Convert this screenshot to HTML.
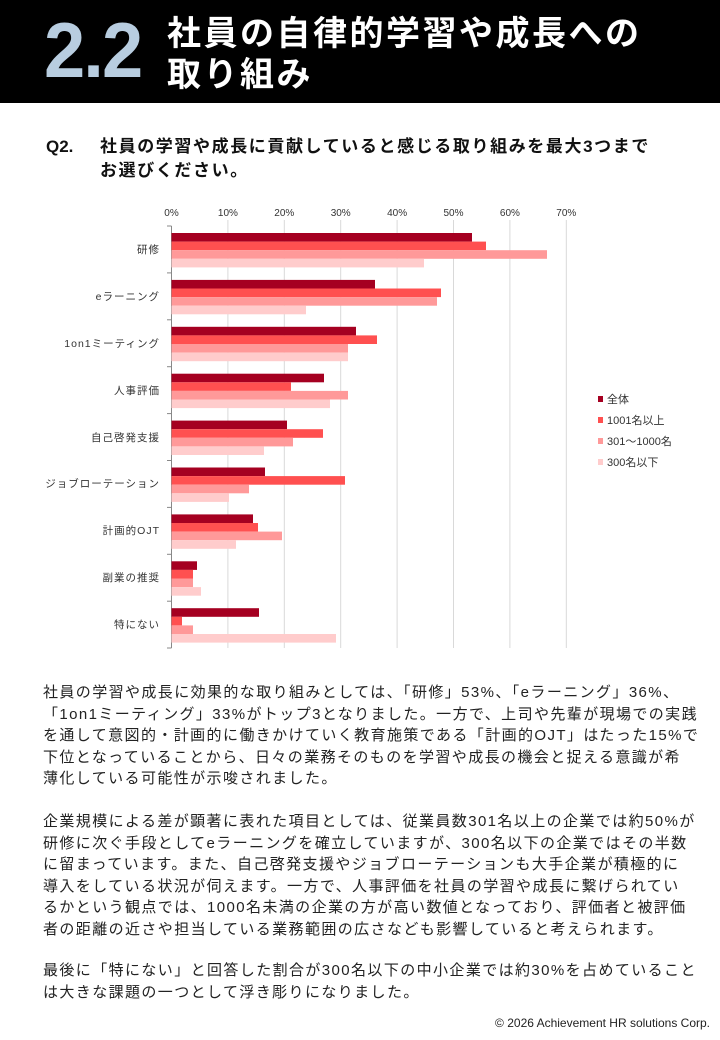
<!DOCTYPE html>
<html><head><meta charset="utf-8"><style>
body{margin:0;width:720px;height:1040px;background:#fff;position:relative;overflow:hidden;font-family:"Liberation Sans","Noto Sans CJK JP",sans-serif;}
.hdr{position:absolute;left:0;top:0;width:720px;height:103px;background:#000;}
.num{position:absolute;left:44px;top:2px;font-size:78px;font-weight:bold;color:#b8cde0;transform:scaleX(0.95);transform-origin:left top;letter-spacing:-2px;line-height:96px;}
.ttl{position:absolute;left:167px;top:14px;color:#fff;font-size:34px;line-height:41px;font-weight:bold;letter-spacing:2.5px;white-space:nowrap;}
.q{position:absolute;left:46px;top:135px;font-size:17px;font-weight:bold;line-height:24px;color:#111;}
.p{position:absolute;left:43px;font-size:15px;line-height:21.5px;color:#222;letter-spacing:1.4px;white-space:nowrap;}
.ft{position:absolute;right:10px;top:1016px;font-size:12px;color:#222;}
</style></head><body>
<div class="hdr"><div class="num">2.2</div><div class="ttl">社員の自律的学習や成長への<br>取り組み</div></div>
<div class="q">Q2.<span style="position:absolute;left:54px;white-space:nowrap;letter-spacing:1.6px">社員の学習や成長に貢献していると感じる取り組みを最大3つまで<br>お選びください。</span></div>
<svg style="position:absolute;left:0;top:0" width="720" height="680" font-family="Liberation Sans, Noto Sans CJK JP, sans-serif">
<g stroke="#d9d9d9" stroke-width="1">
<line x1="227.9" y1="220" x2="227.9" y2="648"/><line x1="284.3" y1="220" x2="284.3" y2="648"/><line x1="340.7" y1="220" x2="340.7" y2="648"/><line x1="397.1" y1="220" x2="397.1" y2="648"/><line x1="453.5" y1="220" x2="453.5" y2="648"/><line x1="509.9" y1="220" x2="509.9" y2="648"/><line x1="566.3" y1="220" x2="566.3" y2="648"/>
</g>
<g font-size="10" fill="#333" text-anchor="middle">
<text x="171.5" y="216">0%</text><text x="227.9" y="216">10%</text><text x="284.3" y="216">20%</text><text x="340.7" y="216">30%</text><text x="397.1" y="216">40%</text><text x="453.5" y="216">50%</text><text x="509.9" y="216">60%</text><text x="566.3" y="216">70%</text>
</g>
<g stroke="#888"><line x1="171.5" y1="226" x2="171.5" y2="648"/>
<line x1="167" y1="226" x2="171.5" y2="226"/><line x1="167" y1="272.9" x2="171.5" y2="272.9"/><line x1="167" y1="319.8" x2="171.5" y2="319.8"/><line x1="167" y1="366.7" x2="171.5" y2="366.7"/><line x1="167" y1="413.6" x2="171.5" y2="413.6"/><line x1="167" y1="460.5" x2="171.5" y2="460.5"/><line x1="167" y1="507.4" x2="171.5" y2="507.4"/><line x1="167" y1="554.3" x2="171.5" y2="554.3"/><line x1="167" y1="601.2" x2="171.5" y2="601.2"/><line x1="167" y1="648" x2="171.5" y2="648"/></g>
<g font-size="10.5" fill="#333" text-anchor="end" letter-spacing="1">
<text x="160" y="253">研修</text><text x="160" y="300">eラーニング</text><text x="160" y="347">1on1ミーティング</text><text x="160" y="394">人事評価</text><text x="160" y="441">自己啓発支援</text><text x="160" y="487">ジョブローテーション</text><text x="160" y="534">計画的OJT</text><text x="160" y="581">副業の推奨</text><text x="160" y="628">特にない</text>
</g>
<g font-size="11" fill="#333">
<rect x="598" y="396" width="5" height="6" fill="#a50021"/><text x="607" y="403">全体</text>
<rect x="598" y="417" width="5" height="6" fill="#ff5050"/><text x="607" y="424">1001名以上</text>
<rect x="598" y="438" width="5" height="6" fill="#ff9999"/><text x="607" y="445">301～1000名</text>
<rect x="598" y="459" width="5" height="6" fill="#ffcccc"/><text x="607" y="466">300名以下</text>
</g>
<g>
<rect x="171.5" y="233" width="300.5" height="8.6" fill="#a50021"/><rect x="171.5" y="241.6" width="314.5" height="8.6" fill="#ff5050"/><rect x="171.5" y="250.2" width="375.5" height="8.6" fill="#ff9999"/><rect x="171.5" y="258.8" width="252.5" height="8.6" fill="#ffcccc"/>
<rect x="171.5" y="279.9" width="203.5" height="8.6" fill="#a50021"/><rect x="171.5" y="288.5" width="269.5" height="8.6" fill="#ff5050"/><rect x="171.5" y="297.1" width="265.5" height="8.6" fill="#ff9999"/><rect x="171.5" y="305.7" width="134.5" height="8.6" fill="#ffcccc"/>
<rect x="171.5" y="326.8" width="184.5" height="8.6" fill="#a50021"/><rect x="171.5" y="335.4" width="205.5" height="8.6" fill="#ff5050"/><rect x="171.5" y="344" width="176.5" height="8.6" fill="#ff9999"/><rect x="171.5" y="352.6" width="176.5" height="8.6" fill="#ffcccc"/>
<rect x="171.5" y="373.7" width="152.5" height="8.6" fill="#a50021"/><rect x="171.5" y="382.3" width="119.5" height="8.6" fill="#ff5050"/><rect x="171.5" y="390.9" width="176.5" height="8.6" fill="#ff9999"/><rect x="171.5" y="399.5" width="158.5" height="8.6" fill="#ffcccc"/>
<rect x="171.5" y="420.6" width="115.5" height="8.6" fill="#a50021"/><rect x="171.5" y="429.2" width="151.5" height="8.6" fill="#ff5050"/><rect x="171.5" y="437.8" width="121.5" height="8.6" fill="#ff9999"/><rect x="171.5" y="446.4" width="92.5" height="8.6" fill="#ffcccc"/>
<rect x="171.5" y="467.5" width="93.5" height="8.6" fill="#a50021"/><rect x="171.5" y="476.1" width="173.5" height="8.6" fill="#ff5050"/><rect x="171.5" y="484.7" width="77.5" height="8.6" fill="#ff9999"/><rect x="171.5" y="493.3" width="57.5" height="8.6" fill="#ffcccc"/>
<rect x="171.5" y="514.4" width="81.5" height="8.6" fill="#a50021"/><rect x="171.5" y="523" width="86.5" height="8.6" fill="#ff5050"/><rect x="171.5" y="531.6" width="110.5" height="8.6" fill="#ff9999"/><rect x="171.5" y="540.2" width="64.5" height="8.6" fill="#ffcccc"/>
<rect x="171.5" y="561.3" width="25.5" height="8.6" fill="#a50021"/><rect x="171.5" y="569.9" width="21.5" height="8.6" fill="#ff5050"/><rect x="171.5" y="578.5" width="21.5" height="8.6" fill="#ff9999"/><rect x="171.5" y="587.1" width="29.5" height="8.6" fill="#ffcccc"/>
<rect x="171.5" y="608.2" width="87.5" height="8.6" fill="#a50021"/><rect x="171.5" y="616.8" width="10.5" height="8.6" fill="#ff5050"/><rect x="171.5" y="625.4" width="21.5" height="8.6" fill="#ff9999"/><rect x="171.5" y="634" width="164.5" height="8.6" fill="#ffcccc"/>
</g>
</svg>
<div class="p" style="top:682px">社員の学習や成長に効果的な取り組みとしては、「研修」53%、「eラーニング」36%、<br>「1on1ミーティング」33%がトップ3となりました。一方で、上司や先輩が現場での実践<br>を通して意図的・計画的に働きかけていく教育施策である「計画的OJT」はたった15%で<br>下位となっていることから、日々の業務そのものを学習や成長の機会と捉える意識が希<br>薄化している可能性が示唆されました。</div>
<div class="p" style="top:811px">企業規模による差が顕著に表れた項目としては、従業員数301名以上の企業では約50%が<br>研修に次ぐ手段としてeラーニングを確立していますが、300名以下の企業ではその半数<br>に留まっています。また、自己啓発支援やジョブローテーションも大手企業が積極的に<br>導入をしている状況が伺えます。一方で、人事評価を社員の学習や成長に繋げられてい<br>るかという観点では、1000名未満の企業の方が高い数値となっており、評価者と被評価<br>者の距離の近さや担当している業務範囲の広さなども影響していると考えられます。</div>
<div class="p" style="top:960px">最後に「特にない」と回答した割合が300名以下の中小企業では約30%を占めていること<br>は大きな課題の一つとして浮き彫りになりました。</div>
<div class="ft">© 2026 Achievement HR solutions Corp.</div>
</body></html>
